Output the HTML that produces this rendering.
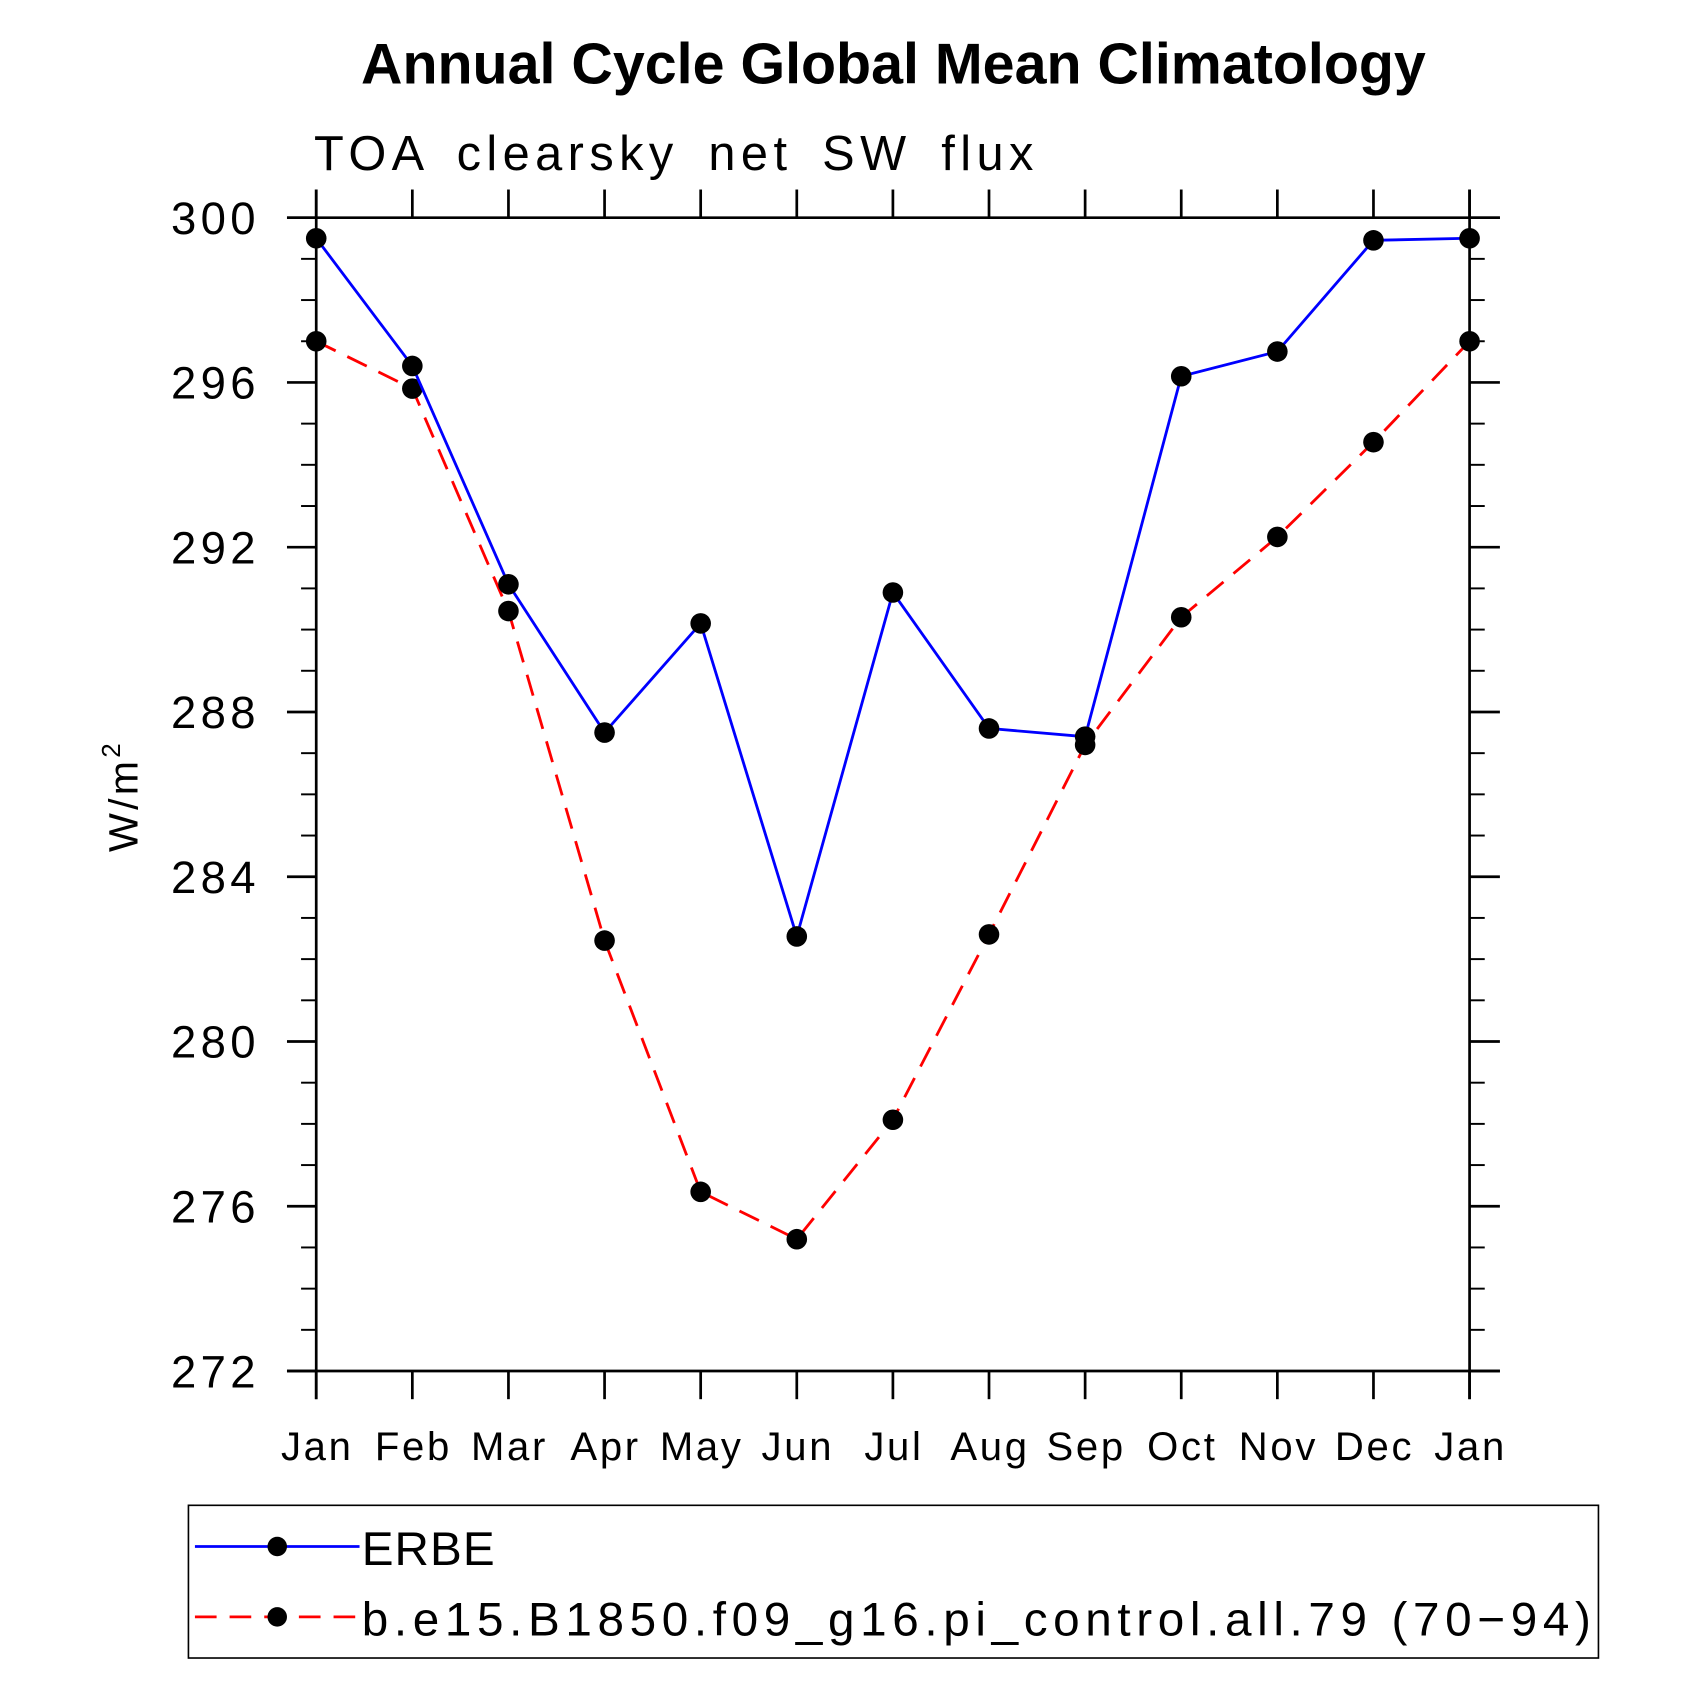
<!DOCTYPE html>
<html><head><meta charset="utf-8"><style>html,body{margin:0;padding:0;background:#fff}svg{display:block}text{font-family:"Liberation Sans",sans-serif}</style></head>
<body>
<svg id="chart" width="1697" height="1697" viewBox="0 0 1567 1567" xmlns="http://www.w3.org/2000/svg">
<text x="825" y="77" font-size="53" font-weight="bold" text-anchor="middle">Annual Cycle Global Mean Climatology</text>
<text x="290" y="157" font-size="45" letter-spacing="5" word-spacing="10">TOA clearsky net SW flux</text>
<text transform="translate(127,735) rotate(-90)" font-size="38" letter-spacing="3" text-anchor="middle">W/m<tspan font-size="24" dy="-16">2</tspan></text>
<g id="axes"></g>
<g id="series"></g>
<rect x="174" y="1390" width="1302" height="141" fill="none" stroke="#000" stroke-width="1.5"/>
<g>
<line x1="180" y1="1428" x2="332" y2="1428" stroke="#00f" stroke-width="2.5"/>
<circle cx="256" cy="1428" r="9"/>
<text x="334" y="1445" font-size="44" letter-spacing="1">ERBE</text>
</g>
<g>
<line x1="180" y1="1493" x2="332" y2="1493" stroke="#f00" stroke-width="2.5" stroke-dasharray="20,12"/>
<circle cx="256" cy="1493" r="9"/>
<text x="334" y="1510" font-size="44" letter-spacing="5.2">b.e15.B1850.f09_g16.pi_control.all.79 (70−94)</text>
</g>
</svg>
<script>
const months = ["Jan","Feb","Mar","Apr","May","Jun","Jul","Aug","Sep","Oct","Nov","Dec","Jan"];
const erbe = [299.5,296.4,291.1,287.5,290.15,282.55,290.9,287.6,287.4,296.15,296.75,299.45,299.5];
const model = [297.0,295.85,290.45,282.45,276.35,275.2,278.1,282.6,287.2,290.3,292.25,294.55,297.0];
const yTicks = [272,276,280,284,288,292,296,300];
const yMin = 272, yMax = 300;
const L=292,R=1357,T=201,B=1266;
const NS="http://www.w3.org/2000/svg";
function xS(i){return L+(R-L)*i/(months.length-1);}
function yS(v){return B-(B-T)*(v-yMin)/(yMax-yMin);}
function mk(tag,attrs,parent){const e=document.createElementNS(NS,tag);for(const k in attrs)e.setAttribute(k,attrs[k]);parent.appendChild(e);return e;}
const ax=document.getElementById('axes');
function ln(x1,y1,x2,y2,w){const e=mk('line',{x1,y1,x2,y2,stroke:"#000","stroke-width":w||2.5},ax);return e;}
let e;
e=ln(265,T,1385,T);
e=ln(265,B,1385,B);
e=ln(L,175,L,1292);
e=ln(R,175,R,1292);
for(let v=yMin;v<=yMax;v++){
  const y=yS(v);
  const major=(v-yMin)%4===0;
  if(major){
    e=ln(265,y,L,y);
    e=ln(R,y,1385,y);
  } else {
    e=ln(278,y,L,y,1.8);
    e=ln(R,y,1371,y,1.8);
  }
}
yTicks.forEach(v=>{
  const t=mk('text',{x:240,y:yS(v)+15,"font-size":42,"letter-spacing":4,"text-anchor":"end"},ax);
  t.textContent=v;
  
  
});
months.forEach((m,i)=>{
  const x=xS(i);
  e=ln(x,175,x,T);
  e=ln(x,B,x,1292);
  const t=mk('text',{x:x+1,y:1348,"font-size":37,"text-anchor":"middle","letter-spacing":2.5},ax);
  t.textContent=m;
  
  
});
const sg=document.getElementById('series');
function drawSeries(vals,color,dash,name){
  const pts=vals.map((v,i)=>xS(i)+","+yS(v)).join(" ");
  const p=mk('polyline',{points:pts,fill:"none",stroke:color,"stroke-width":2.6},sg);
  if(dash)p.setAttribute('stroke-dasharray',dash);
  
  
  vals.forEach((v,i)=>{
    const c=mk('circle',{cx:xS(i),cy:yS(v),r:9.5,fill:"#000"},sg);
    
    
  });
}
drawSeries(model,"#f00","20,12","model");
drawSeries(erbe,"#00f",null,"erbe");
</script>
</body></html>
